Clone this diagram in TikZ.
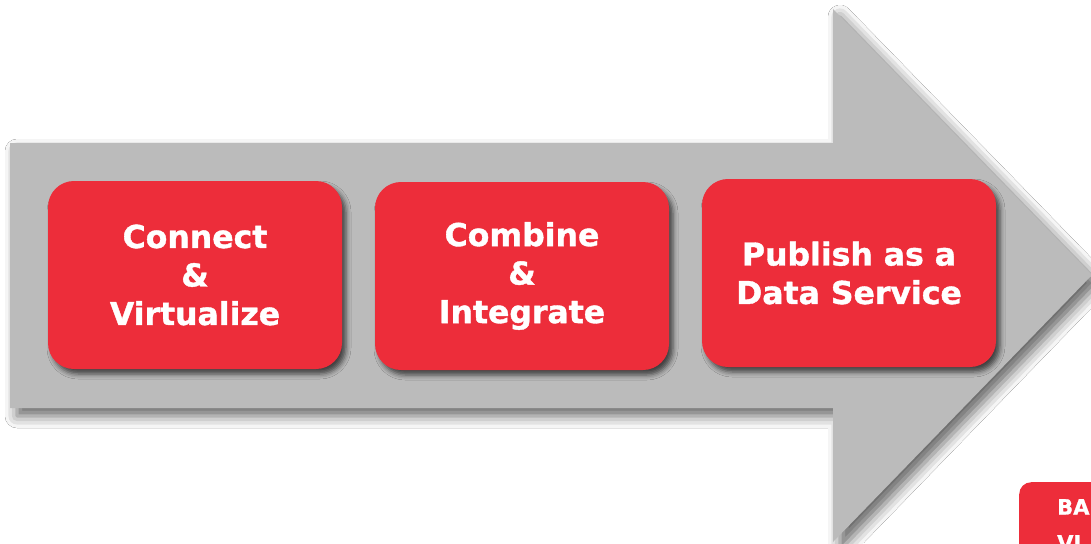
\documentclass[tikz,border=0pt]{standalone}
\usepackage{fontspec}
\setmainfont{DejaVu Sans}
\newfontfamily\heavyfont[FakeBold=1.2]{DejaVu Sans Bold}
\usetikzlibrary{shadows.blur}
\definecolor{boxred}{RGB}{237,45,58}
\definecolor{arrowgray}{RGB}{187,187,187}
\begin{document}
\begin{tikzpicture}[x=1pt,y=-1pt,
  stepbox/.style={fill=boxred, rounded corners=26pt, minimum width=294pt, minimum height=188pt,
    inner sep=0pt, align=center, text=white,
    font=\heavyfont\fontsize{31.5}{38.5}\selectfont,
    blur shadow={shadow xshift=4pt, shadow yshift=-5pt, shadow blur radius=5pt, shadow opacity=65}},
  bigarrow/.style={fill=arrowgray,
    blur shadow={shadow xshift=7pt, shadow yshift=-8pt, shadow blur radius=12pt, shadow opacity=60}}]
\useasboundingbox (0,0) rectangle (1091,543);
\clip (0,0) rectangle (1091,543);
\fill[white] (0,0) rectangle (1091,543);
% big arrow
\path[bigarrow] (10,143) -- (833,143) -- (833,9) -- (1092,275) -- (833,542) -- (833,408) -- (10,408) -- cycle;
% steps
\node[stepbox] (connect) at (195,275) {Connect\\\&\\Virtualize};
\node[stepbox] (combine) at (522,276) {Combine\\\&\\Integrate};
\node[stepbox] (publish) at (849,273) {Publish as a\\Data Service};
% partial box bottom right
\node[fill=boxred, rounded corners=12pt, minimum width=160pt, minimum height=120pt, anchor=north west, inner sep=0pt] (base) at (1019,482) {};
\node[text=white, font=\heavyfont\fontsize{21}{36}\selectfont, align=left, anchor=north west, inner sep=0pt] (basetext) at (1057,499) {BA\\VI};
\end{tikzpicture}
\end{document}
